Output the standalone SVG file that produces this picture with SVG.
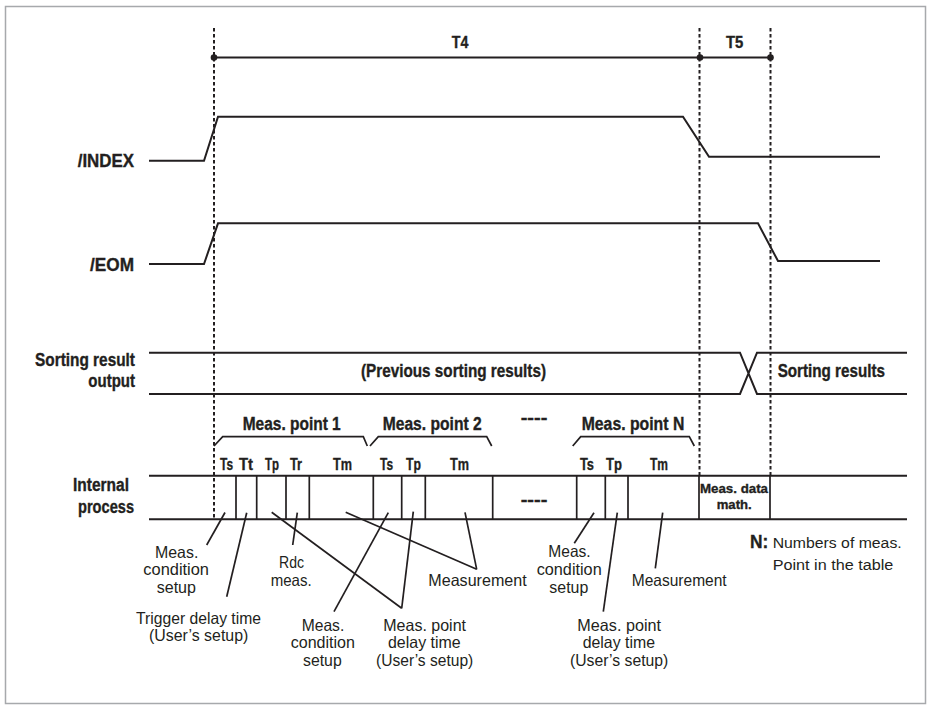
<svg xmlns="http://www.w3.org/2000/svg" width="935" height="706" viewBox="0 0 935 706">
<style>
.b{font-family:"Liberation Sans",Arial,sans-serif;font-weight:bold;fill:#231f20;stroke:#231f20;stroke-width:0.35}
.r{font-family:"Liberation Sans",Arial,sans-serif;fill:#231f20}
.ln{fill:none;stroke:#231f20;stroke-width:2}
.th{fill:none;stroke:#231f20;stroke-width:1.7}
.dash{fill:none;stroke:#231f20;stroke-width:2;stroke-dasharray:3.5 2.5}
</style>
<rect x="5.5" y="6.5" width="920" height="697" fill="#fff" stroke="#a7a9ac" stroke-width="1.5"/>

<g id="guides">
<line class="dash" x1="214" y1="28" x2="214" y2="519"/>
<line class="dash" x1="699.5" y1="28" x2="699.5" y2="476"/>
<line class="dash" x1="770.5" y1="28" x2="770.5" y2="476"/>
</g>

<g id="timing-T4-T5">
<line class="ln" x1="214" y1="57.5" x2="770.5" y2="57.5"/>
<circle cx="214" cy="57.5" r="3.3" fill="#231f20"/>
<circle cx="700" cy="57.5" r="3.3" fill="#231f20"/>
<circle cx="770.5" cy="57.5" r="3.3" fill="#231f20"/>
<text class="b" x="451.7" y="48.3" font-size="17" textLength="16.6" lengthAdjust="spacingAndGlyphs">T4</text>
<text class="b" x="726" y="48.3" font-size="16" textLength="17.3" lengthAdjust="spacingAndGlyphs">T5</text>
</g>

<g id="signal-index">
<text class="b" x="77.7" y="167" font-size="17.5" textLength="56.3" lengthAdjust="spacingAndGlyphs">/INDEX</text>
<path class="ln" d="M149,160.7 H204 L218,116.7 H683 L709,156.7 H880"/>
</g>

<g id="signal-eom">
<text class="b" x="90" y="270.7" font-size="17.5" textLength="44" lengthAdjust="spacingAndGlyphs">/EOM</text>
<path class="ln" d="M149,264 H204 L218,223.3 H758 L778,261 H880"/>
</g>

<g id="sorting-output">
<text class="b" x="35" y="365.5" font-size="17.5" textLength="100" lengthAdjust="spacingAndGlyphs">Sorting result</text>
<text class="b" x="88.3" y="386.7" font-size="17.5" textLength="46.7" lengthAdjust="spacingAndGlyphs">output</text>
<path class="ln" d="M149,352.7 H740 L757,394 H907 M149,394 H740 L757,352.7 H907"/>
<text class="b" x="361" y="376.5" font-size="17.5" textLength="185" lengthAdjust="spacingAndGlyphs">(Previous sorting results)</text>
<text class="b" x="777.7" y="376.5" font-size="17.5" textLength="107.3" lengthAdjust="spacingAndGlyphs">Sorting results</text>
</g>

<g id="meas-point-1">
<text class="b" x="242.7" y="430" font-size="17.5" textLength="98" lengthAdjust="spacingAndGlyphs">Meas. point 1</text>
<polyline class="th" points="214,446 222.7,436.7 363.3,436.7 367.3,446"/>
</g>
<g id="meas-point-2">
<text class="b" x="382.7" y="430" font-size="17.5" textLength="99" lengthAdjust="spacingAndGlyphs">Meas. point 2</text>
<polyline class="th" points="370,446 378.3,436.7 486.7,436.7 491.7,446"/>
</g>
<g id="ellipsis-top">
<text class="b" x="520.7" y="423" font-size="16" textLength="26.6" lengthAdjust="spacingAndGlyphs">----</text>
</g>
<g id="meas-point-N">
<text class="b" x="581.7" y="430" font-size="17.5" textLength="102.6" lengthAdjust="spacingAndGlyphs">Meas. point N</text>
<polyline class="th" points="572.7,446 580.7,436.7 689.3,436.7 694.3,446"/>
</g>

<g id="internal-process">
<text class="b" x="73" y="490.7" font-size="17.5" textLength="56" lengthAdjust="spacingAndGlyphs">Internal</text>
<text class="b" x="78" y="512.7" font-size="17.5" textLength="56" lengthAdjust="spacingAndGlyphs">process</text>
<path class="ln" d="M149,475.7 H907 M149,519.3 H907"/>
<path class="th" d="M236,475.7 V519.3 M256.7,475.7 V519.3 M286,475.7 V519.3 M309.3,475.7 V519.3 M373.3,475.7 V519.3 M401.7,475.7 V519.3 M425.3,475.7 V519.3 M492.7,475.7 V519.3 M576.7,475.7 V519.3 M605.3,475.7 V519.3 M628,475.7 V519.3 M699,475.7 V519.3 M770,475.7 V519.3"/>
<text class="b" x="220" y="469.5" font-size="17" textLength="13" lengthAdjust="spacingAndGlyphs">Ts</text>
<text class="b" x="239" y="469.5" font-size="17" textLength="14" lengthAdjust="spacingAndGlyphs">Tt</text>
<text class="b" x="265" y="469.5" font-size="17" textLength="14" lengthAdjust="spacingAndGlyphs">Tp</text>
<text class="b" x="290" y="469.5" font-size="17" textLength="12" lengthAdjust="spacingAndGlyphs">Tr</text>
<text class="b" x="333" y="469.5" font-size="17" textLength="19" lengthAdjust="spacingAndGlyphs">Tm</text>
<text class="b" x="380" y="469.5" font-size="17" textLength="13" lengthAdjust="spacingAndGlyphs">Ts</text>
<text class="b" x="406" y="469.5" font-size="17" textLength="15" lengthAdjust="spacingAndGlyphs">Tp</text>
<text class="b" x="450" y="469.5" font-size="17" textLength="19" lengthAdjust="spacingAndGlyphs">Tm</text>
<text class="b" x="580" y="469.5" font-size="17" textLength="14" lengthAdjust="spacingAndGlyphs">Ts</text>
<text class="b" x="606" y="469.5" font-size="17" textLength="16" lengthAdjust="spacingAndGlyphs">Tp</text>
<text class="b" x="650" y="469.5" font-size="17" textLength="18" lengthAdjust="spacingAndGlyphs">Tm</text>
<text class="b" x="520.7" y="505" font-size="16" textLength="26.6" lengthAdjust="spacingAndGlyphs">----</text>
<text class="b" x="700" y="493.3" font-size="13.5" textLength="68" lengthAdjust="spacingAndGlyphs">Meas. data</text>
<text class="b" x="716.7" y="509.3" font-size="13.5" textLength="35" lengthAdjust="spacingAndGlyphs">math.</text>
</g>

<g id="connectors">
<line class="th" x1="206.7" y1="545" x2="225" y2="512.5"/>
<line class="th" x1="226.7" y1="596.7" x2="246.7" y2="512.7"/>
<line class="th" x1="292.7" y1="545" x2="297.3" y2="512.7"/>
<line class="th" x1="401.7" y1="608.3" x2="271.7" y2="512.3"/>
<line class="th" x1="401.7" y1="608.3" x2="413.3" y2="511.7"/>
<line class="th" x1="334" y1="611.7" x2="388.3" y2="512.7"/>
<line class="th" x1="476.7" y1="569.3" x2="345.7" y2="512.3"/>
<line class="th" x1="476.7" y1="569.3" x2="465" y2="512.3"/>
<line class="th" x1="574.3" y1="543.3" x2="594" y2="512.7"/>
<line class="th" x1="603.3" y1="611.7" x2="617.3" y2="512.7"/>
<line class="th" x1="655.3" y1="568.3" x2="662.7" y2="512.7"/>
</g>

<g id="label-cond-setup-1">
<text class="r" x="155" y="557.7" font-size="16.5" textLength="43.3" lengthAdjust="spacingAndGlyphs">Meas.</text>
<text class="r" x="143.3" y="575" font-size="16.5" textLength="65.7" lengthAdjust="spacingAndGlyphs">condition</text>
<text class="r" x="156.7" y="592.5" font-size="16.5" textLength="39.3" lengthAdjust="spacingAndGlyphs">setup</text>
</g>
<g id="label-trigger-delay">
<text class="r" x="136" y="624" font-size="16.5" textLength="125" lengthAdjust="spacingAndGlyphs">Trigger delay time</text>
<text class="r" x="149" y="641" font-size="16.5" textLength="99.3" lengthAdjust="spacingAndGlyphs">(User’s setup)</text>
</g>
<g id="label-rdc">
<text class="r" x="279" y="567.5" font-size="16.5" textLength="25" lengthAdjust="spacingAndGlyphs">Rdc</text>
<text class="r" x="270.7" y="586" font-size="16.5" textLength="41" lengthAdjust="spacingAndGlyphs">meas.</text>
</g>
<g id="label-measurement-1">
<text class="r" x="428.3" y="586" font-size="16.5" textLength="98.4" lengthAdjust="spacingAndGlyphs">Measurement</text>
</g>
<g id="label-cond-setup-2">
<text class="r" x="301.7" y="630.7" font-size="16.5" textLength="42.6" lengthAdjust="spacingAndGlyphs">Meas.</text>
<text class="r" x="290.7" y="648.3" font-size="16.5" textLength="64.3" lengthAdjust="spacingAndGlyphs">condition</text>
<text class="r" x="303" y="665.7" font-size="16.5" textLength="38.7" lengthAdjust="spacingAndGlyphs">setup</text>
</g>
<g id="label-point-delay-1">
<text class="r" x="383.3" y="630.7" font-size="16.5" textLength="82.7" lengthAdjust="spacingAndGlyphs">Meas. point</text>
<text class="r" x="388" y="648.3" font-size="16.5" textLength="72.7" lengthAdjust="spacingAndGlyphs">delay time</text>
<text class="r" x="376" y="665.7" font-size="16.5" textLength="97.3" lengthAdjust="spacingAndGlyphs">(User’s setup)</text>
</g>
<g id="label-cond-setup-N">
<text class="r" x="548.3" y="557.3" font-size="16.5" textLength="42.4" lengthAdjust="spacingAndGlyphs">Meas.</text>
<text class="r" x="536.7" y="575" font-size="16.5" textLength="65" lengthAdjust="spacingAndGlyphs">condition</text>
<text class="r" x="549.3" y="592.5" font-size="16.5" textLength="39" lengthAdjust="spacingAndGlyphs">setup</text>
</g>
<g id="label-point-delay-N">
<text class="r" x="577.3" y="630.7" font-size="16.5" textLength="83.7" lengthAdjust="spacingAndGlyphs">Meas. point</text>
<text class="r" x="582.7" y="648.3" font-size="16.5" textLength="72.3" lengthAdjust="spacingAndGlyphs">delay time</text>
<text class="r" x="570" y="665.7" font-size="16.5" textLength="98.3" lengthAdjust="spacingAndGlyphs">(User’s setup)</text>
</g>
<g id="label-measurement-N">
<text class="r" x="631.7" y="585.5" font-size="16.5" textLength="95" lengthAdjust="spacingAndGlyphs">Measurement</text>
</g>
<g id="note-N">
<text class="b" x="750" y="548" font-size="19" textLength="18.3" lengthAdjust="spacingAndGlyphs">N:</text>
<text class="r" x="772.7" y="548" font-size="15.5" textLength="129" lengthAdjust="spacingAndGlyphs">Numbers of meas.</text>
<text class="r" x="772.7" y="569.5" font-size="15.5" textLength="120.6" lengthAdjust="spacingAndGlyphs">Point in the table</text>
</g>
</svg>
